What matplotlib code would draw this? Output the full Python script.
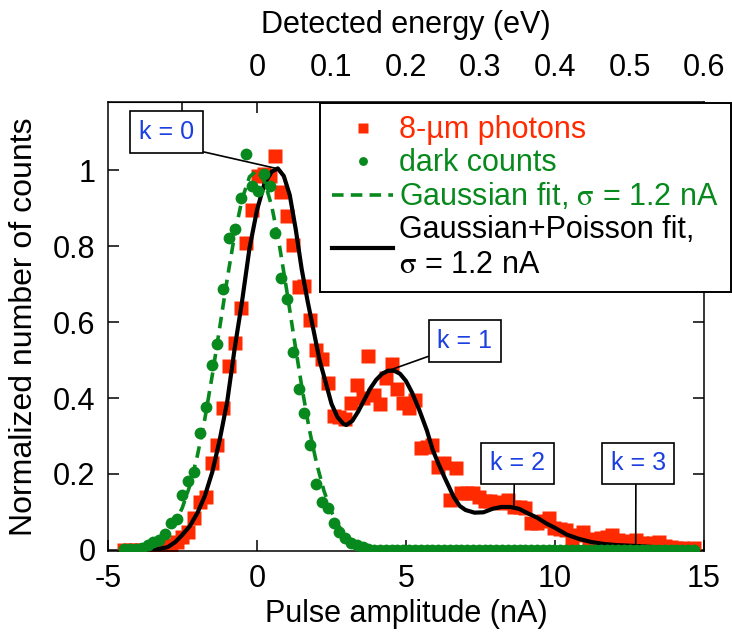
import numpy as np
import matplotlib
matplotlib.use("Agg")
import matplotlib.pyplot as plt

# colours
RED = "#ff2a00"
GREEN = "#08891d"
BLUE = "#1c3fe0"

# histogram bins (nA) shared by both measured series
bin_start = -4.45
bin_width = 0.195

# 8-um photon counts, normalized
photons = [
    0.0, 0.0, 0.0, 0.0, 0.0,
    0.002, 0.004, 0.008, 0.012, 0.022,
    0.035, 0.046, 0.083, 0.127, 0.140,
    0.228, 0.276, 0.375, 0.484, 0.546,
    0.636, 0.809, 0.895, 0.984, 0.990,
    0.984, 1.039, 0.943, 0.879, 0.804,
    0.693, 0.696, 0.605, 0.526, 0.504,
    0.439, 0.353, 0.351, 0.346, 0.388,
    0.434, 0.400, 0.510, 0.408, 0.385,
    0.453, 0.489, 0.425, 0.388, 0.374,
    0.396, 0.268, 0.270, 0.276, 0.219,
    0.228, 0.132, 0.215, 0.151, 0.150,
    0.149, 0.140, 0.130, 0.128, 0.127,
    0.123, 0.132, 0.112, 0.112, 0.110,
    0.072, 0.070, 0.075, 0.083, 0.057,
    0.055, 0.053, 0.026, 0.039, 0.048,
    0.026, 0.028, 0.030, 0.035, 0.039,
    0.026, 0.022, 0.024, 0.025, 0.018,
    0.015, 0.018, 0.022, 0.009, 0.007,
    0.005, 0.004, 0.003, 0.004,
]

# dark counts, normalized
dark = [
    0.003, 0.002, 0.002, 0.004, 0.013,
    0.022, 0.025, 0.041, 0.070, 0.082,
    0.145, 0.182, 0.206, 0.307, 0.377,
    0.487, 0.542, 0.687, 0.822, 0.845,
    0.927, 1.042, 0.959, 0.946, 0.991,
    0.959, 0.836, 0.715, 0.662, 0.521,
    0.425, 0.360, 0.276, 0.174, 0.127,
    0.110, 0.070, 0.048, 0.031, 0.018,
    0.012, 0.007, 0.002, 0.0, 0.0,
    0.0, 0.0, 0.0, 0.0, 0.0, 0.0, 0.0, 0.0, 0.0,
    0.0, 0.0, 0.0, 0.0, 0.0, 0.0, 0.0, 0.0, 0.0,
    0.0, 0.0, 0.0, 0.0, 0.0, 0.0, 0.0, 0.0, 0.0,
    0.0, 0.0, 0.0, 0.0, 0.0, 0.0, 0.0, 0.0, 0.0,
    0.0, 0.0, 0.0, 0.0, 0.0, 0.0, 0.0, 0.0, 0.0,
    0.0, 0.0, 0.0, 0.0, 0.0, 0.0, 0.0, 0.0, 0.0,
]

# Gaussian fit to dark counts
gauss_x = [-4.5, -4.0, -3.5, -3.25, -3.0, -2.75, -2.5, -2.25, -2.0, -1.75,
           -1.5, -1.25, -1.0, -0.75, -0.5, -0.25, 0.0, 0.25, 0.5, 0.75,
           1.0, 1.25, 1.5, 1.75, 2.0, 2.25, 2.5, 2.75, 3.0, 3.25,
           3.5, 4.0, 4.5, 5.0, 14.7]
gauss_y = [0.001, 0.004, 0.011, 0.024, 0.042, 0.070, 0.112, 0.170, 0.248, 0.345,
           0.460, 0.586, 0.713, 0.830, 0.924, 0.983, 1.0, 0.972, 0.904, 0.804,
           0.683, 0.555, 0.432, 0.320, 0.228, 0.155, 0.100, 0.062, 0.037, 0.021,
           0.011, 0.003, 0.001, 0.0, 0.0]

# Gaussian+Poisson fit to photon counts
gp_x = [-4.5, -3.5, -3.0, -2.75, -2.5, -2.25, -2.0, -1.75, -1.5, -1.25,
        -1.0, -0.75, -0.5, -0.25, 0.0, 0.25, 0.5, 0.7, 0.9, 1.1,
        1.3, 1.5, 1.7, 1.9, 2.1, 2.3, 2.5, 2.7, 2.9, 3.0,
        3.2, 3.4, 3.6, 3.8, 4.0, 4.2, 4.4, 4.6, 4.8, 5.0,
        5.2, 5.45, 5.7, 5.9, 6.1, 6.3, 6.6, 6.8, 7.0, 7.3,
        7.6, 7.9, 8.2, 8.5, 8.8, 9.1, 9.4, 9.7, 10.0, 10.4,
        10.8, 11.2, 11.6, 12.0, 12.5, 13.0, 13.5, 14.0, 14.7]
gp_y = [0.0, 0.0, 0.007, 0.020, 0.040, 0.063, 0.097, 0.142, 0.205, 0.290,
        0.390, 0.530, 0.655, 0.795, 0.895, 0.965, 0.997, 1.005, 0.985, 0.935,
        0.845, 0.740, 0.655, 0.578, 0.500, 0.443, 0.385, 0.350, 0.332, 0.329,
        0.340, 0.365, 0.395, 0.425, 0.448, 0.464, 0.472, 0.472, 0.464, 0.445,
        0.415, 0.368, 0.315, 0.263, 0.225, 0.190, 0.140, 0.116, 0.105, 0.098,
        0.099, 0.108, 0.113, 0.113, 0.108, 0.096, 0.085, 0.070, 0.058, 0.040,
        0.029, 0.021, 0.016, 0.013, 0.011, 0.009, 0.006, 0.004, 0.002]

# Poisson-order labels: (text position, curve point)
k_labels = ["k = 0", "k = 1", "k = 2", "k = 3"]
k_text_xy = [(-3.03, 1.101), (6.98, 0.550), (8.75, 0.228), (12.79, 0.228)]
k_point_xy = [(0.65, 1.005), (4.4, 0.472), (8.62, 0.110), (12.71, 0.015)]
k_relpos = [(0.54, 0.0), (0.0, 0.0), (0.44, 0.0), (0.46, 0.0)]

x_ticks = [-5, 0, 5, 10, 15]
y_ticks = [0, 0.2, 0.4, 0.6, 0.8, 1.0]
y_ticklabels = ["0", "0.2", "0.4", "0.6", "0.8", "1"]
energy_ticks = [-0.1, 0.0, 0.1, 0.2, 0.3, 0.4, 0.5, 0.6]
energy_ticklabels = ["", "0", "0.1", "0.2", "0.3", "0.4", "0.5", "0.6"]
ev_per_na = 0.04

plt.rcParams["font.family"] = ["Liberation Sans", "DejaVu Sans"]
plt.rcParams["mathtext.fontset"] = "stix"
plt.rcParams["axes.unicode_minus"] = False

fig = plt.figure(figsize=(7.32, 6.34), dpi=100)
ax = fig.add_axes([0.1475, 0.1309, 0.8142, 0.7082])

bin_centres = bin_start + bin_width * np.arange(len(photons))

ph_line, = ax.plot(bin_centres, photons, "s", color=RED, ms=9.5, mec="none",
                   label="8-µm photons", zorder=2)
gp_line, = ax.plot(gp_x, gp_y, "-", color="black", lw=3.0,
                   label="Gaussian+Poisson fit,\n$\\mathrm{\\sigma}$ = 1.2 nA", zorder=3)
dk_line, = ax.plot(bin_centres, dark, "o", color=GREEN, ms=8.5, mec="none",
                   label="dark counts", zorder=4)
ga_line, = ax.plot(gauss_x, gauss_y, "--", color=GREEN, lw=2.6, dashes=(3.2, 2),
                   label="Gaussian fit, $\\mathrm{\\sigma}$ = 1.2 nA", zorder=5)

ax.set_xlim(-5, 15)
ax.set_ylim(-0.003, 1.18)
ax.set_xticks(x_ticks)
ax.set_yticks(y_ticks)
ax.set_yticklabels(y_ticklabels)
ax.tick_params(direction="in", length=8, width=1.1, labelsize=22, pad=9,
               right=True)
for s in ax.spines.values():
    s.set_linewidth(1.1)

ax.set_xlabel("Pulse amplitude (nA)", fontsize=22, labelpad=4)
ax.set_ylabel("Normalized number of counts", fontsize=23, labelpad=10)

# top axis: detected energy
top = ax.secondary_xaxis("top", functions=(lambda x: x * ev_per_na,
                                           lambda e: e / ev_per_na))
top.set_xticks(energy_ticks)
top.set_xticklabels(energy_ticklabels)
top.tick_params(direction="in", length=8, width=1.1, labelsize=22, pad=14)
top.set_xlabel("Detected energy (eV)", fontsize=22, labelpad=14)

# k labels
for lab, txy, pxy, rp in zip(k_labels, k_text_xy, k_point_xy, k_relpos):
    ax.annotate(lab, xy=pxy, xytext=txy, ha="center", va="center",
                fontsize=18, color=BLUE, zorder=6,
                bbox=dict(boxstyle="square,pad=0.35", fc="white", ec="black", lw=1.2),
                arrowprops=dict(arrowstyle="-", color="black", lw=1.2,
                                relpos=rp, shrinkA=0, shrinkB=0))

leg = ax.legend(handles=[ph_line, dk_line, ga_line, gp_line],
                loc="upper left", bbox_to_anchor=(320 / 732, 1 - 103 / 634),
                bbox_transform=fig.transFigure, borderaxespad=0,
                fontsize=22, frameon=True, fancybox=False, framealpha=1,
                edgecolor="black", handlelength=2.0, handletextpad=0.2,
                labelspacing=0.1, borderpad=0.4, markerscale=0.75, numpoints=1)
leg.get_frame().set_linewidth(1.4)
for txt, col in zip(leg.get_texts(), [RED, GREEN, GREEN, "black"]):
    txt.set_color(col)
leg.set_zorder(7)

fig.savefig("out.png", dpi=100)
